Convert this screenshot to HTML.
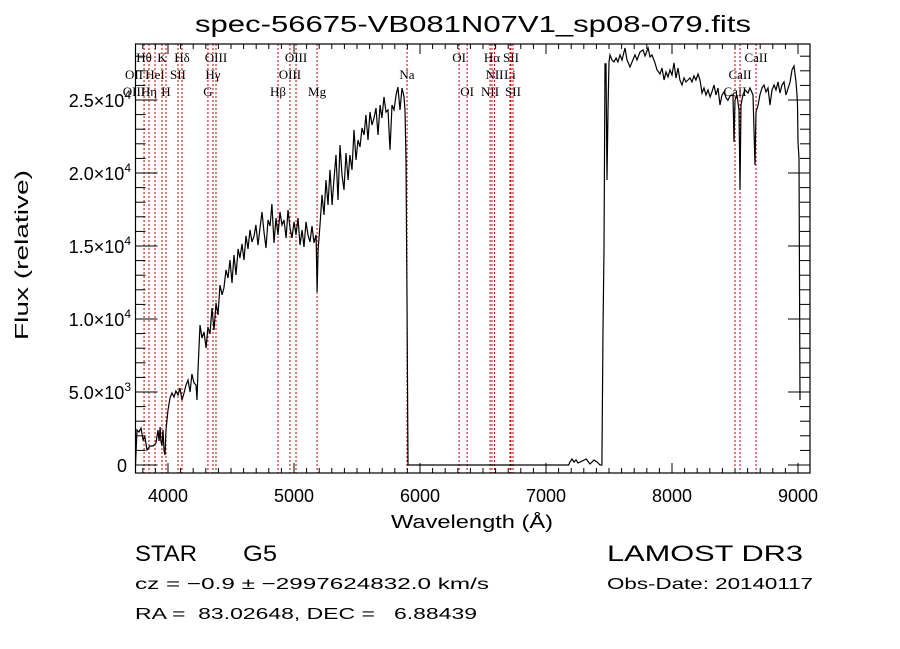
<!DOCTYPE html>
<html><head><meta charset="utf-8"><style>
html,body{margin:0;padding:0;background:#fff;}
svg{display:block;}
text{font-family:"Liberation Sans",sans-serif;fill:#000;}
.ser{font-family:"Liberation Serif",serif;}
</style></head><body>
<svg id="chart" width="900" height="649" viewBox="0 0 900 649">
<text x="473" y="32" font-size="23" text-anchor="middle" textLength="556" lengthAdjust="spacingAndGlyphs">spec-56675-VB081N07V1_sp08-079.fits</text>
<g id="lines"></g>
<g id="axes"></g>
<path id="spec" fill="none" stroke="#000" stroke-width="1.2"></path>
<text x="472" y="528" font-size="18" text-anchor="middle" textLength="162" lengthAdjust="spacingAndGlyphs">Wavelength (Å)</text>
<text transform="translate(28,255) rotate(-90)" font-size="18" text-anchor="middle" textLength="170" lengthAdjust="spacingAndGlyphs">Flux (relative)</text>
<text x="135" y="561" font-size="22" textLength="62" lengthAdjust="spacingAndGlyphs">STAR</text>
<text x="243" y="561" font-size="22" textLength="34" lengthAdjust="spacingAndGlyphs">G5</text>
<text x="135" y="589" font-size="16" textLength="354" lengthAdjust="spacingAndGlyphs">cz = −0.9 ± −2997624832.0 km/s</text>
<text x="135" y="619" font-size="16" textLength="342" lengthAdjust="spacingAndGlyphs" xml:space="preserve">RA =  83.02648, DEC =   6.88439</text>
<text x="607" y="561" font-size="22" textLength="196" lengthAdjust="spacingAndGlyphs">LAMOST DR3</text>
<text x="607" y="589" font-size="16" textLength="206" lengthAdjust="spacingAndGlyphs">Obs-Date: 20140117</text>
</svg>
<script>
const wave = [3742,3754,3770,3786,3802,3817,3833,3857,3881,3905,3921,3929,3937,3944,3952,3960,3968,3976,3984,3992,4000,4016,4032,4048,4063,4079,4095,4111,4127,4143,4159,4175,4190,4206,4222,4230,4238,4254,4270,4286,4302,4317,4333,4349,4365,4381,4397,4413,4429,4444,4460,4476,4492,4508,4524,4540,4556,4571,4587,4603,4619,4635,4651,4667,4683,4698,4714,4730,4746,4762,4778,4794,4810,4825,4841,4857,4873,4889,4905,4921,4937,4952,4968,4984,5000,5016,5032,5048,5064,5079,5095,5111,5127,5143,5159,5175,5183,5191,5206,5222,5238,5254,5270,5286,5302,5317,5333,5349,5365,5381,5397,5413,5429,5444,5460,5476,5492,5508,5524,5540,5556,5571,5587,5603,5619,5635,5651,5667,5683,5698,5714,5730,5746,5762,5778,5794,5810,5825,5841,5857,5873,5881,5889,5897,5905,7180,
7190,7206,7222,7238,7254,7286,7318,7349,7381,7405,7429,7444,7452,7460,7468,7476,7484,7492,7500,7508,7524,7540,7556,7571,7587,7603,7627,7643,7667,7683,7706,7722,7746,7770,7786,7810,7825,7841,7865,7881,7905,7921,7937,7952,7968,7984,8000,8016,8032,8048,8063,8079,8095,8111,8127,8143,8159,8175,8190,8206,8222,8238,8254,8270,8286,8302,8317,8333,8349,8365,8381,8397,8413,8429,8444,8460,8484,8492,8500,8516,8532,8540,8548,8563,8579,8603,8619,8643,8659,8667,8683,8698,8714,8730,8746,8762,8778,8794,8810,8825,8841,8857,8873,8889,8905,8937,8952,8968,8984,8992,8996,9000,9008,9016];
const flux = [0,2400,2260,2530,1710,1920,1030,1300,1300,1510,2400,1640,2600,1640,1300,2400,1030,685,2400,3080,3770,4590,4930,4660,5070,4800,5270,4450,4930,5480,5820,5000,6230,5620,5480,4450,6510,9590,8700,9110,8010,9450,8970,10750,9250,11100,10280,12330,11650,12120,13360,12810,14040,12470,14390,13020,14800,14180,15140,14040,15690,14800,16100,15280,15690,16440,15070,16240,17330,15960,14860,16780,16370,17880,15210,16920,15760,17330,16440,16780,15550,17470,16240,15550,16650,15760,16920,15070,16100,14930,16650,15760,15280,16370,15210,15760,11850,14730,16440,18500,17130,19520,17810,20210,17810,19520,21240,18150,21920,19870,18840,21370,19520,21240,20210,22950,20890,22260,21780,23080,22600,23980,22260,24180,23290,23770,24450,22600,24660,23770,25210,24180,24320,21580,24660,24320,25350,25890,24320,25820,25210,24320,20890,11300,0,0,
205,410,205,340,140,270,410,70,340,205,0,0,9250,14730,27470,27470,19520,24320,27610,28090,27740,27610,27880,27610,28090,27740,28560,27740,27260,27610,28090,27740,28290,28430,28020,28560,27950,28090,27540,27060,26780,27190,26370,26920,26580,27060,26710,27540,26510,27190,26370,26030,26510,26240,26370,26510,26240,26650,26370,26780,26370,25480,25820,25340,25690,25210,25550,26030,25340,25820,24660,25340,25550,25140,24980,25280,25340,22130,24980,25340,24320,18840,24660,25340,25690,25480,25820,25340,20550,24180,24660,25340,25820,26030,25550,25820,24660,25690,26030,25690,26240,25480,26030,26240,25340,26240,27060,27330,26240,25340,24660,22130,21000,4450,0];
const lineWave = [3810,3849,3897,3952,3984,4079,4111,4317,4357,4381,4873,4968,5016,5183,5897,6310,6374,6556,6571,6591,6714,6722,6738,8500,8540,8667];
const lineLabel = ["Hθ","Hη","HeI","K","H","SII","Hδ","G","Hγ","OIII","Hβ","OIII","OIII","Mg","Na","OI","OI","NII","Hα","NII","Li","SII","SII","CaII","CaII","CaII"];
const lineRow = [0,2,1,0,2,1,0,2,1,0,2,1,0,2,1,0,2,2,0,1,1,0,2,2,1,0];
const xTicks = [4000,5000,6000,7000,8000,9000];
const xTickLabels = ["4000","5000","6000","7000","8000","9000"];
const yTicks = [0,5000,10000,15000,20000,25000];
const yTickMant = ["0","5.0","1.0","1.5","2.0","2.5"];
const yTickExp = ["","3","4","4","4","4"];

const L=135.5,R=810,T=44,B=473;
const X = w => 168 + (w-4000)*0.126;
const Y = f => 465 - f*0.0146;
const NS='http://www.w3.org/2000/svg';
function mk(tag, attrs, parent){const e=document.createElementNS(NS,tag);for(const k in attrs)e.setAttribute(k,attrs[k]);parent.appendChild(e);return e;}

const lg=document.getElementById('lines');
const rowY=[62,79,96];
lineWave.forEach((w,i)=>{
  const ln=mk('line',{x1:X(w),x2:X(w),y1:T,y2:B,stroke:'#c00000','stroke-width':1,'stroke-dasharray':'2,2'},lg);
  
  
  const t=mk('text',{x:X(w),y:rowY[lineRow[i]],'font-size':13,'text-anchor':'middle',class:'ser'},lg);
  t.textContent=lineLabel[i];
  
  
});
[["OII",1],["OIII",2]].forEach(([s,r])=>{
  const t=mk('text',{x:134,y:rowY[r],'font-size':13,'text-anchor':'middle',class:'ser'},lg);
  t.textContent=s;
  
  
});

const ax=document.getElementById('axes');
const frame=mk('rect',{x:L,y:T,width:R-L,height:B-T,fill:'none',stroke:'#000','stroke-width':1.2},ax);


for(let w=3800;w<=9100;w+=100){
  const x=X(w); if(x<L||x>R) continue;
  const major=(w%1000===0); const len=major?10:5;
  mk('line',{x1:x,x2:x,y1:B,y2:B-len,stroke:'#000'},ax);
  mk('line',{x1:x,x2:x,y1:T,y2:T+len,stroke:'#000'},ax);
}
for(let f=0;f<=28000;f+=1000){
  const y=Y(f); if(y<T) continue;
  const major=(f%5000===0); const len=major?22:10;
  mk('line',{x1:L,x2:L+len,y1:y,y2:y,stroke:'#000'},ax);
  mk('line',{x1:R,x2:R-len,y1:y,y2:y,stroke:'#000'},ax);
}
xTicks.forEach((w,i)=>{
  const t=mk('text',{x:X(w),y:502,'font-size':18,'text-anchor':'middle'},ax);
  t.textContent=xTickLabels[i];
  
  
});
yTicks.forEach((f,i)=>{
  const t=mk('text',{x:i===0?127:131,y:Y(f)+7,'font-size':18,'text-anchor':'end'},ax);
  
  
  if(yTickExp[i]===''){t.textContent=yTickMant[i];}
  else{
    const a=mk('tspan',{},t); a.textContent=yTickMant[i]+'×10';
    const b=mk('tspan',{dy:-8,'font-size':12},t); b.textContent=yTickExp[i];
  }
});

let d='';
wave.forEach((w,i)=>{d+=(i?'L':'M')+X(w).toFixed(1)+','+Y(flux[i]).toFixed(1);});
document.getElementById('spec').setAttribute('d',d);
</script>
</body></html>
